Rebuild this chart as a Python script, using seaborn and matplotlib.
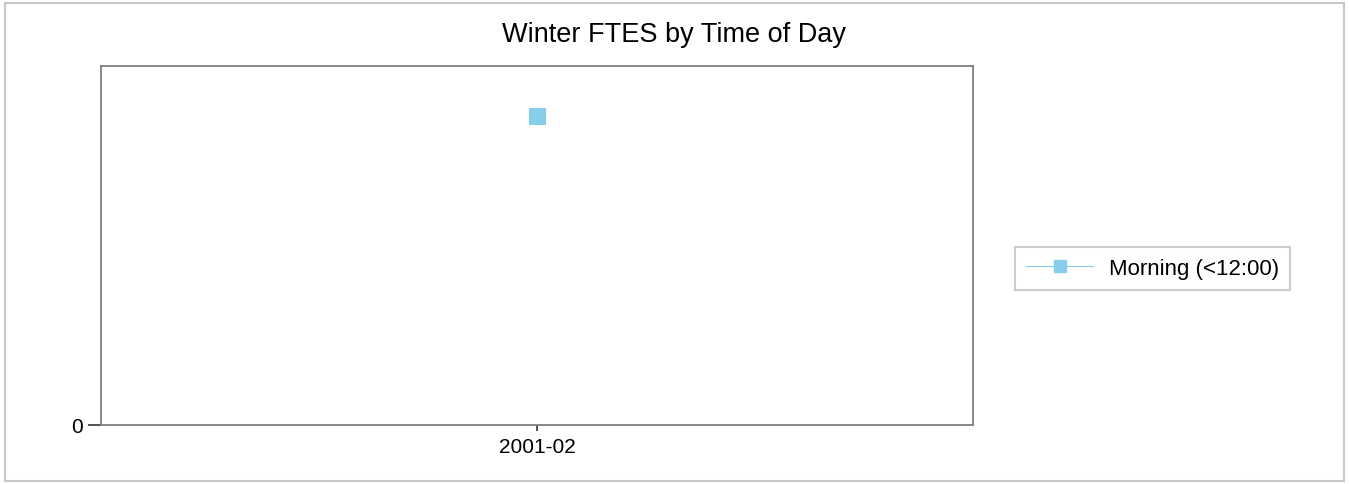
import pandas as pd
import seaborn as sns
import matplotlib.pyplot as plt
from matplotlib.lines import Line2D
from matplotlib.patches import Rectangle

# data
terms = ["2001-02"]
morning_ftes = [12.5]
series_name = "Morning (<12:00)"
point_color = "#87ceeb"

df = pd.DataFrame({"term": terms, "ftes": morning_ftes, "slot": series_name})

sns.set_theme(style="white")
plt.rcParams['font.family'] = ['Liberation Sans', 'DejaVu Sans']
plt.rcParams['text.color'] = 'black'
plt.rcParams['xtick.color'] = 'black'
plt.rcParams['ytick.color'] = 'black'

fig = plt.figure(figsize=(13.49, 4.85), dpi=100)
ax = fig.add_axes([101 / 1349, 1 - 426 / 485, 872 / 1349, 359 / 485])

sns.lineplot(data=df, x="term", y="ftes", hue="slot", palette=[point_color],
             marker="s", markersize=11, markeredgecolor=point_color,
             linewidth=0.8, ax=ax, legend=False)

ax.set_xlim(-1, 1)
ax.set_ylim(0, morning_ftes[0] / 0.861)
ax.set_yticks([0])
ax.set_xlabel("")
ax.set_ylabel("")
fig.suptitle("Winter FTES by Time of Day", fontsize=19.5, x=0.5, y=1 - 35 / 485, va="center")

for s in ax.spines.values():
    s.set_color("#7f7f7f")
    s.set_linewidth(1.3)
ax.tick_params(axis="y", left=True, length=9.5, width=1.2, color="#333333", labelsize=15, pad=3.5)
ax.tick_params(axis="x", bottom=True, length=4.5, width=1.2, color="#333333", labelsize=15, pad=4.5)

handle = Line2D([0], [0], color=point_color, linewidth=0.8, marker="s",
                markersize=9, markeredgecolor=point_color)
leg = ax.legend([handle], [series_name], loc="center left", bbox_to_anchor=(1.0485, 0.436),
                fontsize=16, frameon=True, fancybox=False, handlelength=3.0,
                borderpad=0.5, borderaxespad=0, handletextpad=0.7)
leg.get_frame().set_edgecolor("#c0c0c0")
leg.get_frame().set_linewidth(1.5)

fig.patches.append(Rectangle((5 / 1349, 3 / 485), 1339 / 1349, 478 / 485,
                             transform=fig.transFigure, fill=False,
                             edgecolor="#c8c8c8", linewidth=1.5))

fig.savefig("out.png", dpi=100)
